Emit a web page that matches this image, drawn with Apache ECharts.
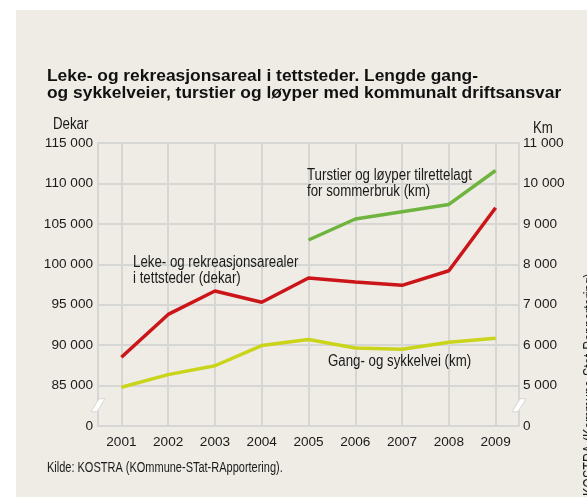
<!DOCTYPE html>
<html>
<head>
<meta charset="utf-8">
<script src="https://cdn.jsdelivr.net/npm/echarts@6/dist/echarts.min.js"></script>
<style>
html,body{margin:0;padding:0;background:#fff;}
#chart{width:587px;height:497px;}
</style>
</head>
<body>
<div id="chart"></div>
<script>
var years = ['2001','2002','2003','2004','2005','2006','2007','2008','2009'];
// dekar, left axis
var lekeareal = [88500, 93800, 96700, 95300, 98300, 97800, 97400, 99200, 107000];
// km, right axis
var turstier = [null, null, null, null, 8600, 9120, 9300, 9480, 10320];
var gangSykkel = [4960, 5270, 5490, 5990, 6140, 5930, 5900, 6070, 6170];

var FONT = "'Liberation Sans', Arial, sans-serif";
var GRIDCOL = '#d6d6d4';
var NARROW = 0.83; // the original uses a condensed face

function fmt(v) {
  return String(v).replace(/\B(?=(\d{3})+(?!\d))/g, ' ');
}

var myChart = echarts.init(document.getElementById('chart'));
var option = {
  backgroundColor: '#fff',
  animation: false,
  title: {
    text: 'Leke- og rekreasjonsareal i tettsteder. Lengde gang-\nog sykkelveier, turstier og løyper med kommunalt driftsansvar',
    left: 47, top: 68, padding: 0,
    textStyle: {fontFamily: FONT, fontSize: 17.4, fontWeight: 'bold', color: '#111', lineHeight: 17}
  },
  grid: {left: 98, right: 68, top: 143, bottom: 71, containLabel: false},
  xAxis: {
    type: 'category',
    data: years,
    boundaryGap: true,
    axisLine: {lineStyle: {color: GRIDCOL, width: 2}},
    axisTick: {show: false},
    axisLabel: {fontFamily: FONT, fontSize: 13.6, color: '#1a1a1a', margin: 9},
    splitLine: {show: true, alignWithLabel: true, lineStyle: {color: GRIDCOL, width: 2}}
  },
  yAxis: [{
    type: 'value', min: 80000, max: 115000, interval: 5000,
    axisLine: {show: true, lineStyle: {color: GRIDCOL, width: 2}},
    axisTick: {show: false},
    axisLabel: {fontFamily: FONT, fontSize: 13.6, color: '#1a1a1a', margin: 5,
      formatter: function (v) { return v === 80000 ? '0' : fmt(v); }},
    splitLine: {show: true, lineStyle: {color: GRIDCOL, width: 2}}
  }, {
    type: 'value', min: 4000, max: 11000, interval: 1000,
    axisLine: {show: true, lineStyle: {color: GRIDCOL, width: 2}},
    axisTick: {show: false},
    axisLabel: {fontFamily: FONT, fontSize: 13.6, color: '#1a1a1a', margin: 4,
      formatter: function (v) { return v === 4000 ? '0' : fmt(v); }},
    splitLine: {show: false}
  }],
  series: [{
    name: 'Leke- og rekreasjonsarealer i tettsteder (dekar)',
    type: 'line', yAxisIndex: 0, data: lekeareal,
    symbol: 'none', lineStyle: {color: '#cc1519', width: 3.5}, itemStyle: {color: '#cc1519'}
  }, {
    name: 'Turstier og løyper tilrettelagt for sommerbruk (km)',
    type: 'line', yAxisIndex: 1, data: turstier,
    symbol: 'none', lineStyle: {color: '#6eb43f', width: 3.5}, itemStyle: {color: '#6eb43f'}
  }, {
    name: 'Gang- og sykkelvei (km)',
    type: 'line', yAxisIndex: 1, data: gangSykkel,
    symbol: 'none', lineStyle: {color: '#c9d41b', width: 3.5}, itemStyle: {color: '#c9d41b'}
  }]
};
myChart.setOption(option);

// decoration: background panel, axis names, annotations, axis breaks
var yBreak = myChart.convertToPixel({yAxisIndex: 0}, 82500);
var half = (myChart.convertToPixel({xAxisIndex: 0}, '2002') - myChart.convertToPixel({xAxisIndex: 0}, '2001')) / 2;
var xl = myChart.convertToPixel({xAxisIndex: 0}, '2001') - half;
var xr = myChart.convertToPixel({xAxisIndex: 0}, '2009') + half;
function brk(cx, cy) {
  return {
    type: 'polygon', z: 100,
    shape: {points: [[cx + 1, cy - 7], [cx + 7, cy - 7], [cx - 1, cy + 6], [cx - 7, cy + 6]]},
    style: {fill: '#ffffff', stroke: GRIDCOL, lineWidth: 1}
  };
}
function label(text, x, y, size, extra) {
  return Object.assign({
    type: 'text', x: x, y: y, scaleX: NARROW, z: 50,
    style: {text: text, fontFamily: FONT, fontSize: size, fill: '#1a1a1a', lineHeight: 16, align: 'left', verticalAlign: 'top'}
  }, extra || {});
}
myChart.setOption({
  graphic: [
    {type: 'rect', z: -10, silent: true, shape: {x: 16, y: 10, width: 571, height: 487}, style: {fill: '#efece5'}},
    label('Dekar', 53, 117, 16),
    label('Km', 533, 121, 16),
    label('Leke- og rekreasjonsarealer\ni tettsteder (dekar)', 133, 255, 16),
    label('Turstier og løyper tilrettelagt\nfor sommerbruk (km)', 307, 168, 16),
    label('Gang- og sykkelvei (km)', 328, 354, 16),
    label('Kilde: KOSTRA (KOmmune-STat-RApportering).', 47, 460, 14, {scaleX: 0.785}),
    label('KOSTRA (Kommune-Stat-Rapportering)', 583, 496, 16, {rotation: Math.PI / 2, scaleX: 0.78}),
    brk(xl, yBreak),
    brk(xr, yBreak)
  ]
});
</script>
</body>
</html>
